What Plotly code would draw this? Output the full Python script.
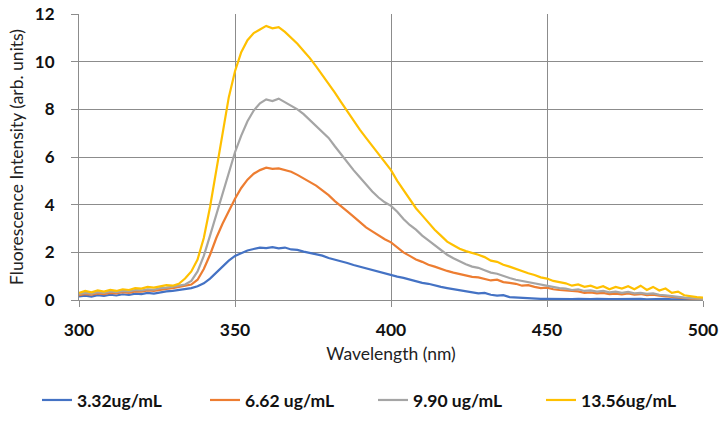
import plotly.graph_objects as go

wavelength = list(range(300, 501, 2))

c332 = [0.15, 0.18, 0.14, 0.20, 0.17, 0.22, 0.19, 0.24, 0.21, 0.27,
        0.25, 0.30, 0.27, 0.33, 0.36, 0.38, 0.42, 0.46, 0.50, 0.58,
        0.70, 0.90, 1.15, 1.40, 1.65, 1.85, 1.98, 2.08, 2.14, 2.20,
        2.18, 2.22, 2.17, 2.20, 2.12, 2.10, 2.03, 1.98, 1.90, 1.86,
        1.76, 1.70, 1.62, 1.55, 1.47, 1.40, 1.33, 1.25, 1.20, 1.10,
        1.05, 0.98, 0.93, 0.85, 0.80, 0.72, 0.68, 0.60, 0.55, 0.50,
        0.46, 0.40, 0.36, 0.33, 0.28, 0.30, 0.22, 0.18, 0.20, 0.12,
        0.10, 0.08, 0.06, 0.07, 0.05, 0.05, 0.04, 0.05, 0.03, 0.04,
        0.05, 0.03, 0.04, 0.05, 0.03, 0.04, 0.04, 0.05, 0.03, 0.04,
        0.05, 0.03, 0.04, 0.04, 0.05, 0.03, 0.04, 0.03, 0.04, 0.03,
        0.03]

c662 = [0.20, 0.25, 0.22, 0.28, 0.25, 0.30, 0.28, 0.33, 0.30, 0.36,
        0.35, 0.40, 0.38, 0.44, 0.47, 0.50, 0.55, 0.58, 0.65, 0.85,
        1.30, 1.90, 2.60, 3.20, 3.75, 4.25, 4.70, 5.05, 5.30, 5.45,
        5.55, 5.50, 5.52, 5.45, 5.38, 5.25, 5.10, 4.95, 4.80, 4.60,
        4.40, 4.15, 3.95, 3.72, 3.50, 3.28, 3.05, 2.88, 2.70, 2.55,
        2.42, 2.20, 2.00, 1.85, 1.70, 1.60, 1.48, 1.40, 1.30, 1.22,
        1.15, 1.08, 1.02, 0.97, 0.95, 0.90, 0.82, 0.85, 0.75, 0.72,
        0.68, 0.60, 0.62, 0.55, 0.50, 0.52, 0.45, 0.42, 0.40, 0.35,
        0.36, 0.30, 0.32, 0.28, 0.30, 0.25, 0.27, 0.24, 0.28, 0.22,
        0.25, 0.20, 0.22, 0.18, 0.15, 0.12, 0.10, 0.08, 0.06, 0.05,
        0.04]

c990 = [0.25, 0.30, 0.27, 0.33, 0.30, 0.36, 0.33, 0.38, 0.36, 0.42,
        0.40, 0.45, 0.43, 0.50, 0.52, 0.55, 0.60, 0.65, 0.80, 1.20,
        1.85, 2.70, 3.60, 4.50, 5.40, 6.20, 6.90, 7.50, 7.95, 8.25,
        8.42, 8.35, 8.45, 8.30, 8.15, 8.00, 7.80, 7.55, 7.30, 7.05,
        6.80, 6.45, 6.10, 5.80, 5.45, 5.15, 4.85, 4.55, 4.30, 4.10,
        3.95, 3.70, 3.40, 3.15, 2.95, 2.70, 2.50, 2.30, 2.08, 1.90,
        1.75, 1.62, 1.50, 1.40, 1.35, 1.25, 1.15, 1.10, 1.00, 0.92,
        0.85, 0.80, 0.72, 0.70, 0.62, 0.60, 0.55, 0.50, 0.48, 0.42,
        0.45, 0.38, 0.40, 0.35, 0.38, 0.32, 0.35, 0.30, 0.34, 0.28,
        0.30, 0.26, 0.28, 0.22, 0.20, 0.16, 0.14, 0.10, 0.08, 0.06,
        0.05]

c1356 = [0.30, 0.38, 0.32, 0.40, 0.35, 0.42, 0.38, 0.45, 0.42, 0.50,
         0.48, 0.55, 0.52, 0.58, 0.62, 0.60, 0.68, 0.90, 1.20, 1.70,
         2.60, 3.90, 5.40, 7.00, 8.50, 9.60, 10.40, 10.90, 11.20, 11.35,
         11.50, 11.40, 11.45, 11.25, 11.00, 10.75, 10.45, 10.15, 9.80, 9.45,
         9.05, 8.70, 8.30, 7.90, 7.50, 7.15, 6.80, 6.45, 6.15, 5.80,
         5.45, 5.00, 4.60, 4.20, 3.85, 3.55, 3.25, 2.95, 2.70, 2.45,
         2.30, 2.15, 2.05, 1.98, 1.90, 1.80, 1.65, 1.60, 1.48, 1.40,
         1.30, 1.20, 1.12, 1.05, 0.95, 0.90, 0.80, 0.75, 0.70, 0.60,
         0.65, 0.55, 0.60, 0.50, 0.58, 0.45, 0.55, 0.48, 0.58, 0.45,
         0.60, 0.42, 0.55, 0.40, 0.48, 0.30, 0.35, 0.20, 0.15, 0.12,
         0.10]

series_names = ["3.32ug/mL", "6.62 ug/mL", "9.90 ug/mL", "13.56ug/mL"]
series_values = [c332, c662, c990, c1356]
colors = ["#4472C4", "#ED7D31", "#A5A5A5", "#FFC000"]

x_ticks = [300, 350, 400, 450, 500]
y_ticks = [0, 2, 4, 6, 8, 10, 12]

fig = go.Figure()
for name, vals, col in zip(series_names, series_values, colors):
    fig.add_trace(go.Scatter(x=wavelength, y=vals, mode="lines", name=name,
                             line=dict(color=col, width=2.2)))

grid = "#8c8c8c"
fig.update_layout(
    width=720, height=423,
    margin=dict(l=79, r=17, t=14, b=123, autoexpand=False),
    plot_bgcolor="white", paper_bgcolor="white",
    font=dict(family="Lato, Open Sans, sans-serif", color="#222"),
    legend=dict(orientation="h", x=-0.0673, xanchor="left", y=-0.35, yanchor="middle",
                font=dict(size=17.5, color="#111", weight="bold"), entrywidth=123,
                itemwidth=30),
    showlegend=True,
)
fig.update_xaxes(range=[300, 500], tickvals=x_ticks, showgrid=True, gridcolor=grid, gridwidth=1,
                 showline=True, linecolor=grid, linewidth=1, mirror=False,
                 ticks="outside", ticklen=6, tickcolor=grid, ticklabelstandoff=8,
                 ticklabeloverflow="allow",
                 tickfont=dict(size=17.5, color="#111", weight="bold"),
                 title=dict(text="Wavelength (nm)", font=dict(size=17.5, color="#222"), standoff=8),
                 zeroline=False)
fig.update_yaxes(range=[0, 12], tickvals=y_ticks, showgrid=True, gridcolor=grid, gridwidth=1,
                 showline=True, linecolor=grid, linewidth=1,
                 ticks="outside", ticklen=7, tickcolor=grid, ticklabelstandoff=13,
                 ticklabeloverflow="allow",
                 tickfont=dict(size=17, color="#111", weight="bold"),
                 title=dict(text="Fluorescence Intensity (arb. units)", font=dict(size=17.5, color="#222"), standoff=6),
                 zeroline=False)

fig.write_html("out.html", config={"displayModeBar": False},
               post_script="document.body.style.margin='0';document.body.style.overflow='hidden';")
